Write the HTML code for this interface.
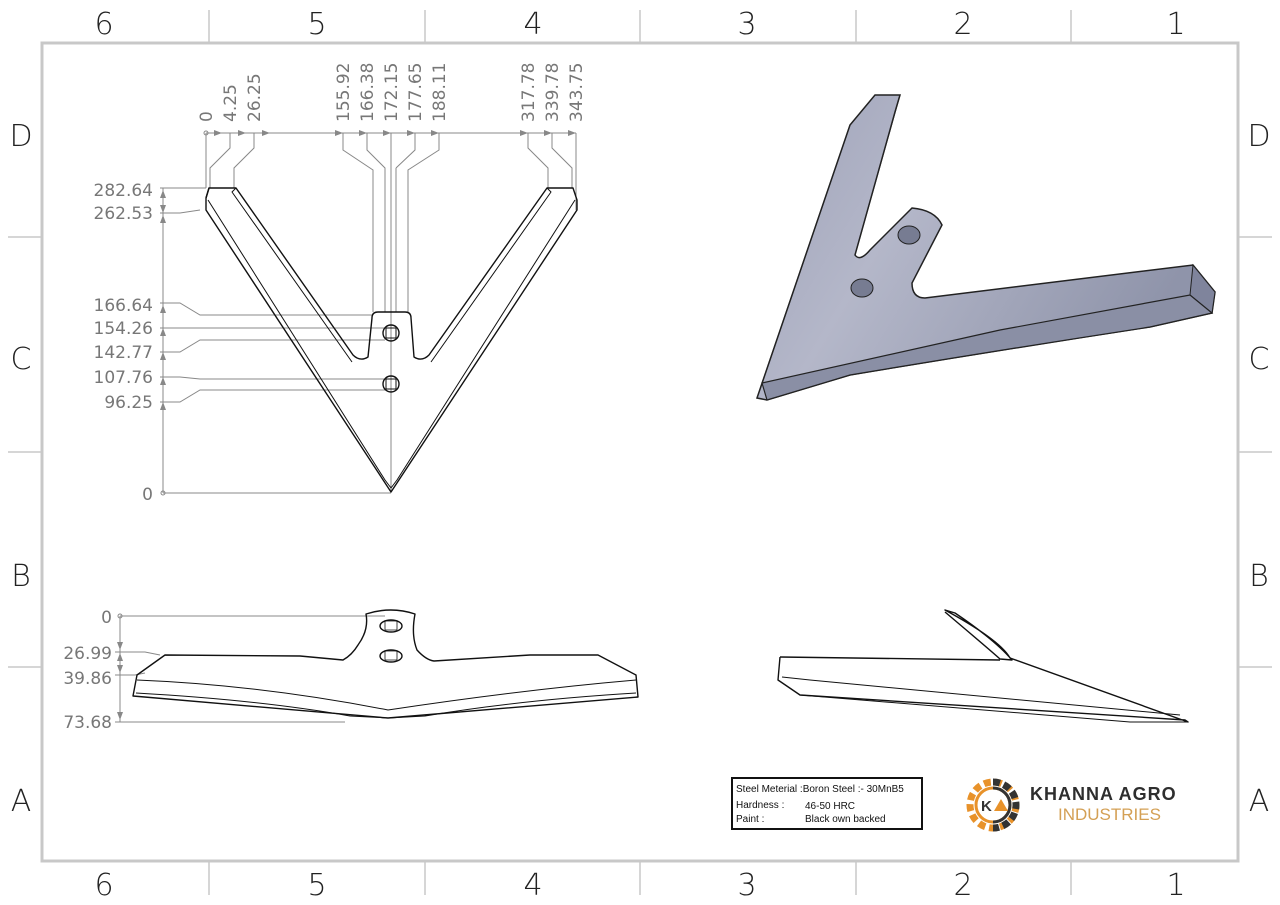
<!DOCTYPE html>
<html><head><meta charset="utf-8"><style>
body{margin:0;background:#fff;}
svg{display:block;font-family:"Liberation Sans",sans-serif;}
.z{font-size:30px;fill:#222;text-anchor:middle;font-family:"DejaVu Sans","Liberation Sans",sans-serif;font-weight:300}
.d{font-size:17px;fill:#777;font-family:"DejaVu Sans","Liberation Sans",sans-serif;}
.g{stroke:#888;stroke-width:1;fill:none}
.k{stroke:#111;stroke-width:1.4;fill:none;stroke-linejoin:round}
</style></head><body>
<svg width="1280" height="905" viewBox="0 0 1280 905">
<rect x="42" y="43" width="1196" height="818" fill="none" stroke="#c8c8c8" stroke-width="3"/>
<g stroke="#c8c8c8" stroke-width="1.5">
<line x1="209" y1="10" x2="209" y2="42"/><line x1="425" y1="10" x2="425" y2="42"/><line x1="640" y1="10" x2="640" y2="42"/><line x1="856" y1="10" x2="856" y2="42"/><line x1="1071" y1="10" x2="1071" y2="42"/>
<line x1="209" y1="862" x2="209" y2="895"/><line x1="425" y1="862" x2="425" y2="895"/><line x1="640" y1="862" x2="640" y2="895"/><line x1="856" y1="862" x2="856" y2="895"/><line x1="1071" y1="862" x2="1071" y2="895"/>
<line x1="8" y1="237" x2="42" y2="237"/><line x1="8" y1="452" x2="42" y2="452"/><line x1="8" y1="667" x2="42" y2="667"/>
<line x1="1238" y1="237" x2="1272" y2="237"/><line x1="1238" y1="452" x2="1272" y2="452"/><line x1="1238" y1="667" x2="1272" y2="667"/>
</g>
<g class="z">
<text x="104" y="34">6</text><text x="317" y="34">5</text><text x="533" y="34">4</text><text x="747" y="34">3</text><text x="963" y="34">2</text><text x="1176" y="34">1</text>
<text x="104" y="895">6</text><text x="317" y="895">5</text><text x="533" y="895">4</text><text x="747" y="895">3</text><text x="963" y="895">2</text><text x="1176" y="895">1</text>
<text x="21" y="146">D</text><text x="21" y="369">C</text><text x="21" y="586">B</text><text x="21" y="811">A</text>
<text x="1259" y="146">D</text><text x="1259" y="369">C</text><text x="1259" y="586">B</text><text x="1259" y="811">A</text>
</g>

<!-- top dims -->
<g class="d">
<text transform="translate(212,122) rotate(-90)">0</text>
<text transform="translate(236,122) rotate(-90)">4.25</text>
<text transform="translate(260,122) rotate(-90)">26.25</text>
<text transform="translate(349,122) rotate(-90)">155.92</text>
<text transform="translate(373,122) rotate(-90)">166.38</text>
<text transform="translate(397,122) rotate(-90)">172.15</text>
<text transform="translate(421,122) rotate(-90)">177.65</text>
<text transform="translate(445,122) rotate(-90)">188.11</text>
<text transform="translate(534,122) rotate(-90)">317.78</text>
<text transform="translate(558,122) rotate(-90)">339.78</text>
<text transform="translate(582,122) rotate(-90)">343.75</text>
</g>
<g class="g">
<line x1="206" y1="133" x2="576" y2="133"/><circle cx="206" cy="133" r="2"/>
<polyline points="230,133 230,148 210,168 210,188"/>
<polyline points="254,133 254,148 234,168 234,188"/>
<polyline points="343,133 343,150 373,170 373,312"/>
<polyline points="367,133 367,150 385,168 385,312"/>
<polyline points="391,133 391,492"/><line x1="396" y1="168" x2="396" y2="312"/>
<polyline points="415,133 415,150 396,168"/>
<polyline points="439,133 439,150 408,170 408,312"/>
<polyline points="528,133 528,148 548,168 548,188"/>
<polyline points="552,133 552,148 572,168 572,188"/>
<line x1="576" y1="133" x2="576" y2="210"/>
<line x1="206" y1="133" x2="206" y2="188"/>
</g>
<g fill="#888"><path d="M222,133l-8,-3v6z M246,133l-8,-3v6z M270,133l-8,-3v6z M343,133l-8,-3v6z M367,133l-8,-3v6z M391,133l-8,-3v6z M415,133l-8,-3v6z M439,133l-8,-3v6z M528,133l-8,-3v6z M552,133l-8,-3v6z M576,133l-8,-3v6z"/></g>

<!-- left dims -->
<g class="d" text-anchor="end">
<text x="153" y="196">282.64</text><text x="153" y="219">262.53</text><text x="153" y="311">166.64</text><text x="153" y="334">154.26</text><text x="153" y="358">142.77</text><text x="153" y="383">107.76</text><text x="153" y="408">96.25</text><text x="153" y="500">0</text>
</g>
<g class="g">
<line x1="163" y1="188" x2="163" y2="493"/><circle cx="163" cy="493" r="2"/>
<line x1="160" y1="188" x2="206" y2="188"/>
<polyline points="160,213 180,213 200,210"/>
<polyline points="160,303 180,303 200,315 373,315"/>
<line x1="160" y1="328" x2="385" y2="328"/>
<polyline points="160,352 180,352 200,340 385,340"/>
<polyline points="160,377 180,377 200,379 385,379"/>
<polyline points="160,402 180,402 200,390 385,390"/>
<line x1="163" y1="493" x2="391" y2="493"/>
</g>
<g fill="#888"><path d="M163,190l-3,8h6z M163,213l-3,-8h6z M163,215l-3,8h6z M163,305l-3,8h6z M163,328l-3,8h6z M163,352l-3,8h6z M163,377l-3,8h6z M163,402l-3,8h6z"/></g>

<!-- V shape -->
<g class="k">
<path d="M209,188 L236,188 L353,355 Q360,362 368,357 L372,318 Q372,312 378,312 L405,312 Q411,312 411,318 L414,357 Q422,362 429,355 L547,188 L573,188 L577,200 L577,210 L391,492 L206,210 L206,198 Z"/>
<line x1="206" y1="198" x2="209" y2="188"/>
<path d="M236,188 L232,192 L352,362" stroke-width="1"/>
<path d="M547,188 L551,192 L431,362" stroke-width="1"/>
<path d="M208,200 L385,480 L391,488 L397,480 L575,200" stroke-width="1"/>
<circle cx="391" cy="333" r="8"/><rect x="386" y="328" width="10" height="10" stroke-width="1"/>
<circle cx="391" cy="384" r="8"/><rect x="386" y="379" width="10" height="10" stroke-width="1"/>
</g>

<!-- bottom front view -->
<g class="d" text-anchor="end"><text x="112" y="623">0</text><text x="112" y="659">26.99</text><text x="112" y="684">39.86</text><text x="112" y="728">73.68</text></g>
<g class="g">
<line x1="120" y1="616" x2="385" y2="616"/><circle cx="120" cy="616" r="2"/>
<line x1="120" y1="616" x2="120" y2="722"/>
<polyline points="115,652 145,652 160,655"/>
<polyline points="115,675 135,675 145,673"/>
<line x1="115" y1="722" x2="345" y2="722"/>
</g>
<g fill="#888"><path d="M120,650l-3,-8h6z M120,653l3,8h-6z M120,673l-3,-8h6z M120,720l-3,-8h6z"/></g>
<g class="k" stroke-width="1.2">
<path d="M366,614 Q391,606 415,614 Q411,635 417,650 Q426,660 434,661 L530,655 L598,655 L636,675 L638,697 L388,718 L133,696 L137,675 L165,655 L300,656 L343,660 Q352,655 358,645 Q369,630 366,614 Z"/>
<path d="M137,680 Q260,685 388,710 Q520,690 636,680" stroke-width="1"/>
<path d="M136,693 Q260,700 350,716 L388,718 L425,716 Q520,700 636,693" stroke-width="1"/>
<ellipse cx="391" cy="626" rx="11" ry="6"/><rect x="385" y="621" width="12" height="9" stroke-width="0.8"/>
<ellipse cx="391" cy="656" rx="11" ry="6"/><rect x="385" y="651" width="12" height="9" stroke-width="0.8"/>
</g>

<!-- 3D view -->
<defs><linearGradient id="gg" x1="0" y1="0" x2="1" y2="0.4"><stop offset="0" stop-color="#9ea2b8"/><stop offset="0.4" stop-color="#b4b7c9"/><stop offset="1" stop-color="#8f94aa"/></linearGradient></defs>
<path d="M757,398 L850,125 L875,95 L900,95 L895,112 L855,255 Q860,262 870,250 L912,208 Q935,210 942,225 L912,283 Q912,298 925,298 L1193,265 L1215,292 L1212,313 L1150,327 Q1000,350 850,375 L767,400 Z" fill="url(#gg)" stroke="#222" stroke-width="1.5"/>
<path d="M895,112 L900,95 L855,255" fill="#7f849c" stroke="#222" stroke-width="1"/>
<path d="M850,125 L762,383 L767,390 L1000,340 L1210,310" fill="none" stroke="#222" stroke-width="1"/>
<path d="M1193,265 L1215,292 L1212,313 L1190,295 Z" fill="#7f849c" stroke="#222" stroke-width="1"/>
<path d="M762,383 L1000,330 L1190,295 L1212,313 L1150,327 Q1000,350 850,375 L767,400 Z" fill="#8a8fa5" stroke="#222" stroke-width="1.2"/>
<ellipse cx="909" cy="235" rx="11" ry="9" fill="#777c92" stroke="#222"/>
<ellipse cx="862" cy="288" rx="11" ry="9" fill="#777c92" stroke="#222"/>

<!-- side view -->
<g class="k" stroke-width="1.2">
<path d="M780,657 L778,680 L800,695 L1185,720 L1188,722 L1010,658 Q1000,640 945,610 L955,613 Q995,640 1012,660 L1000,659 Q990,650 945,612"/>
<path d="M780,657 L1000,660" />
<path d="M782,677 L810,680 L1180,715" stroke-width="1"/>
<path d="M800,695 L1130,722 L1188,722" stroke-width="1"/>
</g>

<!-- title block -->
<rect x="732" y="778" width="190" height="51" fill="none" stroke="#111" stroke-width="2"/>
<g font-size="10" fill="#111">
<text x="736" y="792">Steel Meterial :Boron Steel :- 30MnB5</text>
<text x="736" y="808">Hardness :</text><text x="805" y="809">46-50 HRC</text>
<text x="736" y="822">Paint :</text><text x="805" y="822">Black own backed</text>
</g>
<!-- logo -->
<g>
<circle cx="993" cy="805" r="23" fill="none" stroke="#e8922a" stroke-width="7" stroke-dasharray="7 4"/>
<path d="M993,782 A23,23 0 0 1 993,828" fill="none" stroke="#333" stroke-width="7" stroke-dasharray="7 4"/>
<circle cx="993" cy="805" r="17" fill="#fff" stroke="#e8922a" stroke-width="3"/>
<path d="M993,788 A17,17 0 0 1 993,822" fill="none" stroke="#333" stroke-width="3"/>
<text x="981" y="811" font-size="15" font-weight="bold" fill="#333">K</text>
<path d="M994,811 L1001,799 L1008,811 Z" fill="#e8922a"/>
</g>
<text x="1030" y="800" font-size="18" font-weight="bold" fill="#2e2e2e" letter-spacing="1">KHANNA AGRO</text>
<text x="1058" y="820" font-size="17" fill="#d4a055">INDUSTRIES</text>
</svg>
</body></html>
